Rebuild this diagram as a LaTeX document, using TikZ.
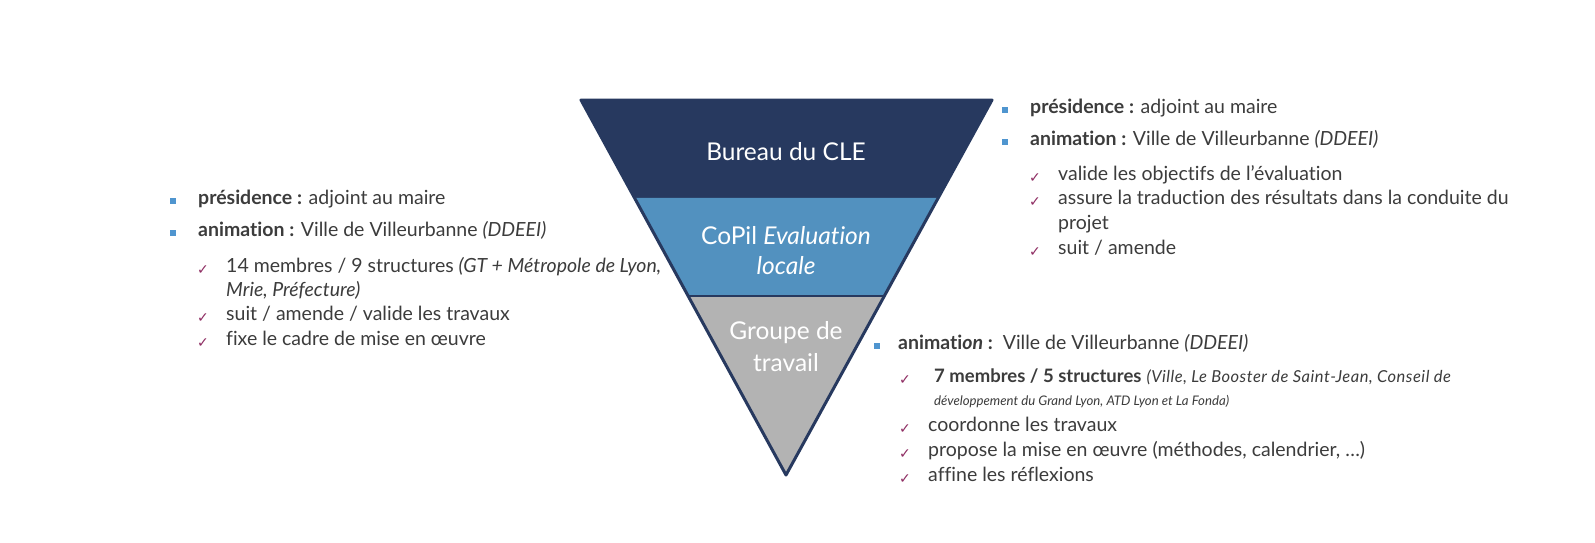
\documentclass[tikz,border=0pt]{standalone}
\usepackage{fontspec}
\setmainfont[Ligatures=NoCommon]{Lato}
\newfontfamily\symfont{DejaVu Sans}
\usetikzlibrary{calc}
\definecolor{navy}{HTML}{27395F}
\definecolor{midblue}{HTML}{5291BF}
\definecolor{grayband}{HTML}{B3B3B3}
\definecolor{txt}{HTML}{3C3C3C}
\definecolor{bulletblue}{HTML}{4F95CF}
\definecolor{checkcol}{HTML}{8E2C62}
\tikzset{
  body/.style={anchor=west, inner sep=0pt, font=\fontsize{19.5}{23}\selectfont, text=txt, text height=0.75em, text depth=0.25em},
  small/.style={anchor=west, inner sep=0pt, font=\fontsize{13.2}{16}\selectfont\itshape, text=txt, text height=0.75em, text depth=0.25em},
  sq/.style={fill=bulletblue, minimum size=6.5pt, inner sep=0pt},
  chk/.style={inner sep=0pt, font=\symfont\fontsize{14}{15}\selectfont, text=checkcol},
  tri/.style={inner sep=0pt, text=white, font=\fontsize{24.5}{28}\selectfont, align=center},
}
\begin{document}
\begin{tikzpicture}[x=1pt,y=-1pt]
\useasboundingbox (0,0) rectangle (1595,542);
\fill[white] (0,0) rectangle (1595,542);
% triangle
\coordinate (TL) at (581,100);
\coordinate (TR) at (992,100);
\coordinate (AP) at (786,475);
\coordinate (L1) at ($(TL)!0.2613!(AP)$);
\coordinate (R1) at ($(TR)!0.2613!(AP)$);
\coordinate (L2) at ($(TL)!0.5227!(AP)$);
\coordinate (R2) at ($(TR)!0.5227!(AP)$);
\fill[navy] (TL) -- (TR) -- (R1) -- (L1) -- cycle;
\fill[midblue] (L1) -- (R1) -- (R2) -- (L2) -- cycle;
\fill[grayband] (L2) -- (R2) -- (AP) -- cycle;
\draw[navy, line width=2pt] (L2) -- (R2);
\draw[navy, line width=3pt, line join=round] (TL) -- (TR) -- (AP) -- cycle;
\node[tri] (bureau) at (786,152) {Bureau du CLE};
\node[tri] (copil1) at (786,236) {CoPil \textit{Evaluation}};
\node[tri] (copil2) at (786,266) {\textit{locale}};
\node[tri] (gt1) at (786,333) {Groupe de};
\node[tri] (gt2) at (786,363) {travail};
% left block
\node[sq] (lb1) at (173,201) {};
\node[body] (lt1) at (198,202) {\textbf{présidence :} adjoint au maire};
\node[sq] (lb2) at (173,233) {};
\node[body] (lt2) at (198,234) {\textbf{animation :} Ville de Villeurbanne \textit{(DDEEI)}};
\node[chk] (lc1) at (203,270) {✓};
\node[body] (lt3) at (226,270) {14 membres / 9 structures \textit{(GT + Métropole de Lyon,}};
\node[body] (lt4) at (226,294) {\textit{Mrie, Préfecture)}};
\node[chk] (lc2) at (203,318) {✓};
\node[body] (lt5) at (226,318) {suit / amende / valide les travaux};
\node[chk] (lc3) at (203,343) {✓};
\node[body] (lt6) at (226,343) {fixe le cadre de mise en œuvre};
% right top block
\node[sq] (rb1) at (1005,110) {};
\node[body] (rt1) at (1030,111) {\textbf{présidence :} adjoint au maire};
\node[sq] (rb2) at (1005,142) {};
\node[body] (rt2) at (1030,143) {\textbf{animation :} Ville de Villeurbanne \textit{(DDEEI)}};
\node[chk] (rc1) at (1035,178) {✓};
\node[body] (rt3) at (1058,178) {valide les objectifs de l’évaluation};
\node[chk] (rc2) at (1035,202) {✓};
\node[body] (rt4) at (1058,202) {assure la traduction des résultats dans la conduite du};
\node[body] (rt5) at (1058,227) {projet};
\node[chk] (rc3) at (1035,252) {✓};
\node[body] (rt6) at (1058,252) {suit / amende};
% bottom right block
\node[sq] (bb1) at (877,346) {};
\node[body] (bt1) at (898,347) {\textbf{animati\textit{on} :}\ \ Ville de Villeurbanne \textit{(DDEEI)}};
\node[chk] (bc1) at (905,380) {✓};
\node[body] (bt2) at (934,380) {{\fontsize{18.5}{22}\selectfont\bfseries 7 membres / 5 structures}\hspace{5pt}{\fontsize{16.5}{19}\selectfont\itshape\addfontfeatures{LetterSpace=3}(Ville, Le Booster de Saint-Jean, Conseil de}};
\node[small] (bt3) at (934,403) {développement du Grand Lyon, ATD Lyon et La Fonda)};
\node[chk] (bc2) at (905,429) {✓};
\node[body] (bt4) at (928,429) {coordonne les travaux};
\node[chk] (bc3) at (905,454) {✓};
\node[body] (bt5) at (928,454) {propose la mise en œuvre (méthodes, calendrier, …)};
\node[chk] (bc4) at (905,479) {✓};
\node[body] (bt6) at (928,479) {affine les réflexions};
\end{tikzpicture}
\end{document}
